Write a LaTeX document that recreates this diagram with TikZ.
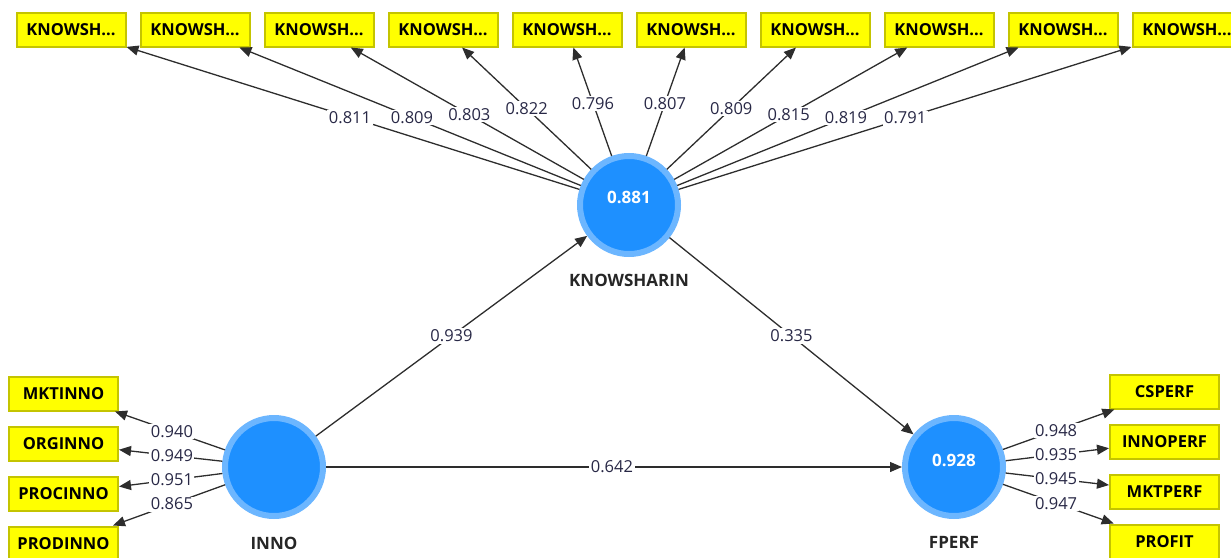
\documentclass[tikz,border=0pt]{standalone}
\usepackage{fontspec}
\setmainfont{Open Sans}
\usetikzlibrary{arrows.meta,calc}
\definecolor{boxfill}{RGB}{255,255,0}
\definecolor{boxline}{RGB}{196,196,0}
\definecolor{lvin}{RGB}{30,144,255}
\definecolor{lvring}{RGB}{108,182,255}
\definecolor{lbltxt}{RGB}{40,40,70}
\definecolor{arrline}{RGB}{45,45,45}
\begin{document}
\begin{tikzpicture}[x=1pt,y=-1pt,
 ind/.style={draw=boxline,fill=boxfill,line width=2pt,minimum width=109pt,minimum height=34pt,inner sep=0pt,font=\fontsize{16.5}{18}\selectfont\bfseries,text=black},
 lv/.style={circle,fill=lvin,draw=lvring,line width=6pt,minimum size=98pt,inner sep=0pt},
 lvval/.style={font=\fontsize{17}{19}\selectfont\bfseries,text=white,inner sep=0pt},
 lvname/.style={font=\fontsize{17}{19}\selectfont\bfseries,text=black!85,inner sep=0pt},
 con/.style={draw=arrline,line width=1.3pt,-{Triangle[length=12pt,width=10pt]}},
 lbl/.style={fill=white,inner sep=1.5pt,text=lbltxt,font=\fontsize{16.5}{18}\selectfont},
]
\useasboundingbox (0,0) rectangle (1231,557);
\clip (0,0) rectangle (1231,557);

% latent variables
\node[lv] (K) at (629,205) {};
\node[lv] (I) at (274,467) {};
\node[lv] (F) at (954,467) {};
\node[lvval] (Kv) at (629,197) {0.881};
\node[lvval] (Fv) at (954,460) {0.928};
\node[lvname] (Kn) at (629,280) {KNOWSHARIN};
\node[lvname] (In) at (274,543) {INNO};
\node[lvname] (Fn) at (954,542) {FPERF};

% top indicators
\foreach \i in {1,...,10}{
  \node[ind] (k\i) at ({71+124*(\i-1)},29.5) {KNOWSH...};
}
% left indicators
\node[ind] (i1) at (63.5,393.5) {MKTINNO};
\node[ind] (i2) at (63.5,443.5) {ORGINNO};
\node[ind] (i3) at (63.5,493.5) {PROCINNO};
\node[ind] (i4) at (63.5,543.5) {PRODINNO};
% right indicators
\node[ind] (f1) at (1164.5,391.5) {CSPERF};
\node[ind] (f2) at (1164.5,441.5) {INNOPERF};
\node[ind] (f3) at (1164.5,491.5) {MKTPERF};
\node[ind] (f4) at (1164.5,541.5) {PROFIT};

% connectors
\foreach \i in {1,...,10}{ \draw[con] (K) -- (k\i); }
\foreach \i in {1,...,4}{ \draw[con] (I) -- (i\i); \draw[con] (F) -- (f\i); }
\draw[con] (I) -- (K);
\draw[con] (K) -- (F);
\draw[con] (I) -- (F);

% path coefficients / loadings
\node[lbl] (p1) at ($(I)!0.5!(K)$) {0.939};
\node[lbl] (p2) at ($(K)!0.5!(F)$) {0.335};
\node[lbl] (p3) at ($(I)!0.497!(F)$) {0.642};

\node[lbl] (w1) at ($(K)!0.5!(k1)$) {0.811};
\node[lbl] (w2) at ($(K)!0.5!(k2)$) {0.809};
\node[lbl] (w3) at ($(K)!0.515!(k3)$) {0.803};
\node[lbl] (w4) at ($(K)!0.55!(k4)$) {0.822};
\node[lbl] (w5) at ($(K)!0.58!(k5)$) {0.796};
\node[lbl] (w6) at ($(K)!0.58!(k6)$) {0.807};
\node[lbl] (w7) at ($(K)!0.55!(k7)$) {0.809};
\node[lbl] (w8) at ($(K)!0.515!(k8)$) {0.815};
\node[lbl] (w9) at ($(K)!0.5!(k9)$) {0.819};
\node[lbl] (w10) at ($(K)!0.495!(k10)$) {0.791};

\node[lbl] (a1) at ($(I)!0.485!(i1)$) {0.940};
\node[lbl] (a2) at ($(I)!0.485!(i2)$) {0.949};
\node[lbl] (a3) at ($(I)!0.485!(i3)$) {0.951};
\node[lbl] (a4) at ($(I)!0.485!(i4)$) {0.865};

\node[lbl] (b1) at ($(F)!0.485!(f1)$) {0.948};
\node[lbl] (b2) at ($(F)!0.485!(f2)$) {0.935};
\node[lbl] (b3) at ($(F)!0.485!(f3)$) {0.945};
\node[lbl] (b4) at ($(F)!0.485!(f4)$) {0.947};
\end{tikzpicture}
\end{document}
